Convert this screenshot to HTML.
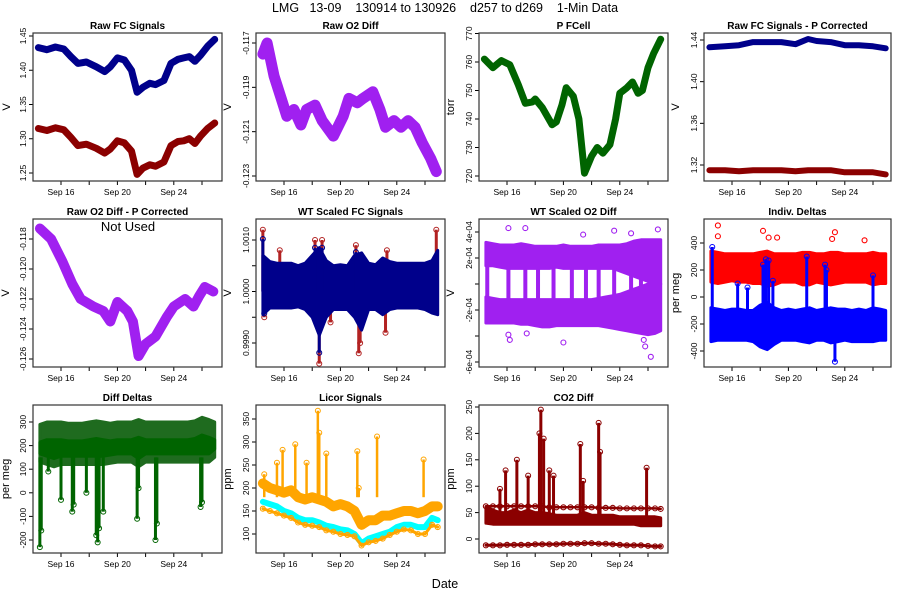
<!DOCTYPE html>
<html><head><meta charset="utf-8"><style>
html,body{margin:0;padding:0;background:#fff;}
svg{display:block;font-family:"Liberation Sans",sans-serif;}
.pre{white-space:pre;}
</style></head><body>
<svg id="root" width="900" height="600" viewBox="0 0 900 600" xmlns="http://www.w3.org/2000/svg">
<rect width="900" height="600" fill="#fff"/>
<text class="pre" xml:space="preserve" x="445" y="12" font-size="12.5" text-anchor="middle">LMG   13-09    130914 to 130926    d257 to d269    1-Min Data</text>
<text x="445" y="588" font-size="12.5" text-anchor="middle">Date</text>
</svg>
<script>
// ---------- data ----------
const xTicks = [16,18,20,22,24,26];
const xTickLabels = {16:"Sep 16",20:"Sep 20",24:"Sep 24"};
// P1 raw FC
const t1 = [14.4,15,15.6,16.2,16.7,17.2,17.8,18.5,19.1,19.5,20.0,20.5,21.0,21.4,21.8,22.3,22.7,23.3,23.8,24.3,24.7,25.1,25.5,25.9,26.4,26.9];
const fcBlue = [1.433,1.430,1.434,1.431,1.420,1.410,1.412,1.405,1.398,1.405,1.418,1.415,1.400,1.368,1.375,1.381,1.379,1.385,1.410,1.416,1.418,1.420,1.413,1.422,1.435,1.445];
const fcRed  = [1.315,1.312,1.316,1.313,1.302,1.290,1.292,1.286,1.279,1.285,1.297,1.294,1.282,1.248,1.257,1.262,1.260,1.266,1.290,1.296,1.297,1.300,1.293,1.304,1.315,1.323];
// P2 raw O2 diff
const t2 = [14.5,14.8,15.3,15.8,16.2,16.7,17.2,17.6,18.2,18.7,19.5,20.2,20.6,21.2,21.6,22.3,22.8,23.2,23.8,24.3,24.8,25.3,25.8,26.4,26.8];
const o2Raw = [-0.1175,-0.1170,-0.1185,-0.1195,-0.1203,-0.1200,-0.1207,-0.1200,-0.1198,-0.1205,-0.1212,-0.1203,-0.1195,-0.1197,-0.1195,-0.1192,-0.1200,-0.1208,-0.1205,-0.1208,-0.1205,-0.1208,-0.1215,-0.1222,-0.1228];
// P3 pressure
const t3 = [14.4,15.0,15.6,16.2,16.8,17.3,17.8,18.0,18.5,19.2,19.5,19.9,20.2,20.7,21.1,21.5,22.0,22.4,22.8,23.3,23.7,24.0,24.5,24.9,25.3,25.6,26.0,26.4,26.9];
const pCell = [761,758,760.5,759,752,745.5,746,747,744,738,739,745,751,748,740,721,727,730,728,731,740,749,751,753,749,750,758,763,768];
// P4 P-corrected FC
const t4 = [14.4,15.5,16.5,17.5,18.5,19.5,20.5,21.4,22.0,23.0,24.0,25.0,26.0,26.9];
const pcBlue = [1.433,1.434,1.435,1.438,1.438,1.438,1.436,1.441,1.439,1.438,1.435,1.435,1.434,1.432];
const pcRed  = [1.315,1.315,1.314,1.315,1.315,1.315,1.314,1.315,1.315,1.315,1.313,1.313,1.313,1.311];
// P5 O2 P-corrected
const t5 = [14.5,15.3,16.1,16.8,17.4,18.3,19.0,19.5,20.0,20.7,21.1,21.5,22.0,22.7,23.5,24.0,24.8,25.4,25.8,26.2,26.8];
const o2Pc = [-0.1173,-0.1180,-0.1195,-0.1210,-0.1220,-0.1225,-0.1228,-0.1235,-0.1222,-0.1228,-0.1235,-0.1258,-0.1250,-0.1245,-0.1232,-0.1225,-0.1220,-0.1225,-0.1218,-0.1212,-0.1215];
// shared time grid for noisy panels
const tg = [14.5,15,15.5,16,16.5,17,17.5,18,18.5,19,19.5,20,20.5,21,21.5,22,22.5,23,23.5,24,24.5,25,25.5,26,26.5,26.9];
// P6 WT scaled FC
const wtHi = [1.00070,1.00058,1.00055,1.00055,1.00055,1.00050,1.00055,1.00070,1.00085,1.00060,1.00050,1.00052,1.00050,1.00070,1.00075,1.00055,1.00052,1.00065,1.00058,1.00055,1.00055,1.00055,1.00055,1.00055,1.00060,1.00080];
const wtLo = [0.99955,0.99968,0.99968,0.99968,0.99968,0.99970,0.99965,0.99950,0.99915,0.99950,0.99965,0.99965,0.99965,0.99950,0.99925,0.99965,0.99965,0.99955,0.99965,0.99968,0.99968,0.99968,0.99968,0.99965,0.99958,0.99955];
const wtSpikeT = [14.5,14.6,18.2,18.5,18.7,21.1,21.3,21.4,23.2,23.3,26.8,15.7,19.3];
const wtSpikeV = [1.0012,0.9995,1.0010,0.9986,1.0010,1.0009,0.9988,0.9990,0.9992,1.0008,1.0012,1.0008,0.9994];
// P7 WT scaled O2
const o2wUpHi = [3.2e-4,3.1e-4,3.0e-4,3.0e-4,3.0e-4,3.1e-4,3.0e-4,2.9e-4,2.9e-4,2.9e-4,2.9e-4,3.0e-4,2.9e-4,2.9e-4,2.9e-4,2.9e-4,3.0e-4,3.0e-4,3.0e-4,3.0e-4,3.1e-4,3.3e-4,3.4e-4,3.4e-4,3.4e-4,3.4e-4];
const o2wUpLo = [1.4e-4,1.4e-4,1.3e-4,1.2e-4,1.2e-4,1.2e-4,1.2e-4,1.2e-4,1.2e-4,1.2e-4,1.3e-4,1.2e-4,1.2e-4,1.2e-4,1.2e-4,1.2e-4,1.2e-4,1.2e-4,1.2e-4,1.0e-4,0.8e-4,0.6e-4,0.4e-4,0.2e-4,0.0,0.0];
const o2wDnHi = [-1.0e-4,-1.1e-4,-1.2e-4,-1.2e-4,-1.2e-4,-1.2e-4,-1.2e-4,-1.2e-4,-1.2e-4,-1.2e-4,-1.2e-4,-1.2e-4,-1.2e-4,-1.2e-4,-1.2e-4,-1.2e-4,-1.1e-4,-1.0e-4,-0.9e-4,-0.8e-4,-0.6e-4,-0.4e-4,-0.2e-4,0.0,0.0,0.0];
const o2wDnLo = [-3.0e-4,-3.0e-4,-3.0e-4,-3.0e-4,-3.0e-4,-3.1e-4,-3.1e-4,-3.2e-4,-3.3e-4,-3.3e-4,-3.2e-4,-3.2e-4,-3.2e-4,-3.2e-4,-3.2e-4,-3.2e-4,-3.2e-4,-3.3e-4,-3.4e-4,-3.5e-4,-3.6e-4,-3.7e-4,-3.8e-4,-3.9e-4,-3.8e-4,-3.6e-4];
const o2wFillT = [14.6,16.1,17.3,18.2,19.3,20.6,21.6,22.5,23.6,24.8,25.5];
const o2wOutT = [16.1,16.2,17.3,17.4,20.0,21.4,23.6,24.8,25.8,26.2,26.7,25.7,16.1];
const o2wOutV = [4.3e-4,-4.3e-4,4.3e-4,-3.8e-4,-4.5e-4,3.8e-4,4.1e-4,3.9e-4,-4.8e-4,-5.6e-4,4.2e-4,-4.3e-4,-3.9e-4];
// P8 individual deltas
const dRedHi = [340,330,320,320,320,320,320,330,340,320,320,320,320,330,330,320,320,330,330,320,320,320,320,330,320,320];
const dRedLo = [110,100,110,120,110,110,100,100,80,90,110,110,110,90,90,110,100,90,100,110,110,110,110,90,100,100];
const dBlueHi = [-80,-90,-100,-90,-90,-100,-100,-60,-40,-80,-100,-90,-100,-90,-80,-100,-90,-80,-90,-90,-100,-90,-100,-80,-90,-100];
const dBlueLo = [-330,-320,-320,-320,-320,-320,-330,-370,-390,-350,-320,-320,-320,-330,-340,-320,-320,-340,-330,-320,-330,-330,-330,-330,-320,-320];
const dSpikeT = [14.6,16.4,17.1,18.2,18.4,18.6,21.3,22.6,22.7,26.0,18.9,23.3];
const dSpikeV = [370,100,70,240,280,270,300,240,200,160,120,-480];
const dRedOutT = [15.0,15.0,18.2,19.2,23.1,23.3,25.4,18.6];
const dRedOutV = [530,450,490,440,430,480,420,440];
// P9 diff deltas
const ddHi = [290,300,300,300,295,295,295,300,305,300,295,300,300,300,310,300,300,300,300,300,300,300,305,320,310,300];
const ddLo = [130,120,110,120,120,120,120,120,120,120,125,130,130,130,110,130,130,130,130,130,130,130,130,130,130,150];
const ddSpikeT = [14.5,14.6,15.1,16.0,16.8,16.9,17.8,18.5,18.6,18.7,19.0,21.4,21.5,22.7,22.8,25.9,26.0];
const ddSpikeV = [-230,-160,90,-30,-80,-50,0,-180,-210,-150,-80,-110,20,-200,-130,-60,-40];
// P10 licor
const licTop  = [210,200,195,190,195,180,175,180,175,170,160,165,160,150,120,130,130,140,140,145,150,150,145,150,160,160];
const licCyan = [170,165,160,150,145,135,130,130,125,118,115,110,108,100,80,90,95,100,105,115,120,120,115,115,135,130];
const licLow  = [155,150,145,140,135,125,120,118,115,108,105,100,98,95,75,82,85,90,98,105,110,108,100,100,120,115];
const licSpikeT = [14.6,15.9,16.8,17.6,18.4,18.5,19.0,21.2,21.3,22.6,25.9,15.5];
const licSpikeV = [230,283,295,255,368,320,275,280,200,312,262,255];
// P11 CO2 diff
const coHi = [60,55,50,50,55,50,55,50,50,48,45,45,45,45,50,45,45,45,45,42,42,42,42,42,42,40];
const coLo = [30,28,28,28,28,28,28,28,28,28,28,28,28,28,28,28,28,28,28,28,28,28,25,25,25,25];
const coTopRow = [62,62,62,62,62,62,62,62,62,60,60,60,60,60,60,60,59,59,59,58,58,58,58,58,58,57];
const coBotRow = [-12,-12,-12,-11,-11,-11,-11,-10,-10,-10,-10,-9,-9,-9,-8,-8,-9,-9,-10,-11,-12,-12,-12,-13,-14,-14];
const coSpikeT = [15.9,16.7,17.5,18.3,18.4,18.6,19.0,19.3,21.2,21.4,22.5,22.6,25.9,15.5];
const coSpikeV = [130,150,120,200,245,190,130,120,180,110,220,165,135,95];

// ---------- framework ----------
const NS = "http://www.w3.org/2000/svg";
const root = document.getElementById("root");
const COLS = [33,256,479,704], ROWS = [33,219,405], PW = 189, PH = 148;
function mk(tag, parent){ const e = document.createElementNS(NS, tag); parent.appendChild(e); return e; }
function set(e, o){ for (const k in o) e.setAttribute(k, o[k]); return e; }
let clipId = 0;

function panel(p){
  const left = COLS[p.col], top = ROWS[p.row], w = p.col===3 ? 187 : PW, bot = top + PH;
  const g = mk("g", root);
  
  
  const xs = t => left + 28 + (t - 16) * 14.1;
  const ys = v => p.p1 + (v - p.v1) * (p.p2 - p.p1) / (p.v2 - p.v1);
  const ti = mk("text", g); set(ti, {x:left+w/2, y:top-4, "font-size":10, "font-weight":"bold", "text-anchor":"middle"}); ti.textContent = p.title;
  
  
  const yl = mk("text", g); set(yl, {x:0, y:0, "font-size":11, "text-anchor":"middle", transform:`translate(${left-p.ylabOff},${top+PH/2}) rotate(-90)`}); yl.textContent = p.ylab;
  
  
  xTicks.forEach(t => {
    const x = xs(t);
    const l = mk("line", g); set(l, {x1:x, x2:x, y1:bot, y2:bot+4, stroke:"#000", "stroke-width":1});
    
    
    if (xTickLabels[t]) {
      const tx = mk("text", g); set(tx, {x:x, y:bot+14, "font-size":8.5, "text-anchor":"middle"}); tx.textContent = xTickLabels[t];
      
      
    }
  });
  p.ticks.forEach((v, i) => {
    const y = ys(v);
    const l = mk("line", g); set(l, {x1:left-4, x2:left, y1:y, y2:y, stroke:"#000", "stroke-width":1});
    
    
    if (p.tickLabels[i]) {
      const tx = mk("text", g); set(tx, {x:0, y:0, "font-size":8.5, "text-anchor":"middle", transform:`translate(${left-7},${y}) rotate(-90)`}); tx.textContent = p.tickLabels[i];
      
      
    }
  });
  const cid = "c" + (clipId++);
  const cp = mk("clipPath", g); cp.setAttribute("id", cid);
  set(mk("rect", cp), {x:left, y:top, width:w, height:PH});
  const plot = mk("g", g); plot.setAttribute("clip-path", `url(#${cid})`);
  
  
  const box = mk("rect", g); set(box, {x:left, y:top, width:w, height:PH, fill:"none", stroke:"#333", "stroke-width":1.2});
  
  
  return {plot, xs, ys};
}
function line(P, ts, vs, color, sw, name){
  const e = mk("polyline", P.plot);
  set(e, {points: ts.map((t,i)=>P.xs(t).toFixed(1)+","+P.ys(vs[i]).toFixed(1)).join(" "), fill:"none", stroke:color, "stroke-width":sw, "stroke-linejoin":"round", "stroke-linecap":"round"});
  
  
}
function band(P, ts, hi, lo, color, name, op){
  const pts = ts.map((t,i)=>P.xs(t).toFixed(1)+","+P.ys(hi[i]).toFixed(1))
    .concat(ts.map((t,i)=>[t,i]).reverse().map(([t,i])=>P.xs(t).toFixed(1)+","+P.ys(lo[i]).toFixed(1)));
  const e = mk("polygon", P.plot);
  set(e, {points: pts.join(" "), fill:color, stroke:color, "stroke-width":3, "fill-opacity":op||1, "stroke-linejoin":"round"});
  
  
}
function spikes(P, ts, vs, base, color, name, sw){
  ts.forEach((t,i)=>{
    const x = P.xs(t);
    const l = mk("line", P.plot); set(l, {x1:x, x2:x, y1:P.ys(base), y2:P.ys(vs[i]), stroke:color, "stroke-width":sw||2});
    
    
    const c = mk("circle", P.plot); set(c, {cx:x, cy:P.ys(vs[i]), r:2.5, fill:"none", stroke:color, "stroke-width":1});
    
    
  });
}
function dots(P, ts, vs, color, name){
  ts.forEach((t,i)=>{
    const c = mk("circle", P.plot); set(c, {cx:P.xs(t), cy:P.ys(vs[i]), r:2.5, fill:"none", stroke:color, "stroke-width":1.1});
    
    
  });
}

// ---------- panels ----------
let P;
P = panel({name:"raw-fc", title:"Raw FC Signals", ylab:"V", ylabOff:23, col:0,row:0, v1:1.45,p1:36, v2:1.25,p2:173, ticks:[1.25,1.30,1.35,1.40,1.45], tickLabels:["1.25","1.30","1.35","1.40","1.45"]});
line(P, t1, fcBlue, "#00008B", 7, "fc-signal-1-line");
line(P, t1, fcRed, "#8B0000", 7, "fc-signal-2-line");

P = panel({name:"raw-o2-diff", title:"Raw O2 Diff", ylab:"V", ylabOff:25, col:1,row:0, v1:-0.117,p1:43, v2:-0.123,p2:176, ticks:[-0.117,-0.119,-0.121,-0.123], tickLabels:["-0.117","-0.119","-0.121","-0.123"]});
line(P, t2, o2Raw, "#A020F0", 11, "o2-diff-line");

P = panel({name:"p-fcell", title:"P FCell", ylab:"torr", ylabOff:25, col:2,row:0, v1:770,p1:33.5, v2:720,p2:176, ticks:[720,730,740,750,760,770], tickLabels:["720","730","740","750","760","770"]});
line(P, t3, pCell, "#006400", 7, "pressure-line");

P = panel({name:"fc-p-corrected", title:"Raw FC Signals - P Corrected", ylab:"V", ylabOff:25, col:3,row:0, v1:1.44,p1:40, v2:1.32,p2:165, ticks:[1.32,1.36,1.40,1.44], tickLabels:["1.32","1.36","1.40","1.44"]});
line(P, t4, pcBlue, "#00008B", 6, "pc-signal-1-line");
line(P, t4, pcRed, "#8B0000", 6, "pc-signal-2-line");

P = panel({name:"o2-p-corrected", title:"Raw O2 Diff - P Corrected", ylab:"V", ylabOff:24, col:0,row:1, v1:-0.118,p1:239, v2:-0.126,p2:359, ticks:[-0.118,-0.120,-0.122,-0.124,-0.126], tickLabels:["-0.118","-0.120","-0.122","-0.124","-0.126"]});
line(P, t5, o2Pc, "#A020F0", 10, "o2-pc-line");
{ const nt = mk("text", root); set(nt, {x:128, y:231, "font-size":13, "text-anchor":"middle"}); nt.textContent = "Not Used";
  
   }

P = panel({name:"wt-fc", title:"WT Scaled FC Signals", ylab:"V", ylabOff:25, col:1,row:1, v1:1.0010,p1:240, v2:0.9990,p2:343, ticks:[0.9990,0.9995,1.0000,1.0005,1.0010], tickLabels:["0.9990","","1.0000","","1.0010"]});
spikes(P, wtSpikeT, wtSpikeV, 1.0, "#B22222", "wt-fc", 3);
band(P, tg, wtHi, wtLo, "#00008B", "wt-fc-band");
spikes(P, wtSpikeT.slice(0,6), wtSpikeV.slice(0,6).map(v=>1+(v-1)*0.85), 1.0, "#00008B", "wt-fc-blue", 3);

P = panel({name:"wt-o2", title:"WT Scaled O2 Diff", ylab:"V", ylabOff:25, col:2,row:1, v1:4e-4,p1:232, v2:-6e-4,p2:362, ticks:[-6e-4,-4e-4,-2e-4,0,2e-4,4e-4], tickLabels:["-6e-04","","-2e-04","","2e-04","4e-04"]});
band(P, tg, o2wUpHi, o2wUpLo, "#A020F0", "wt-o2-upper-band");
band(P, tg, o2wDnHi, o2wDnLo, "#A020F0", "wt-o2-lower-band");
o2wFillT.forEach(t=>{ const x=P.xs(t); const r=mk("rect",P.plot); set(r,{x:x-2,y:P.ys(2e-4),width:4,height:P.ys(-2e-4)-P.ys(2e-4),fill:"#A020F0"});
  
   });
dots(P, o2wOutT, o2wOutV, "#A020F0", "wt-o2-outlier");

P = panel({name:"indiv-deltas", title:"Indiv. Deltas", ylab:"per meg", ylabOff:25, col:3,row:1, v1:400,p1:243, v2:-400,p2:351, ticks:[-400,-200,0,200,400], tickLabels:["-400","-200","0","200","400"]});
band(P, tg, dRedHi, dRedLo, "#FF0000", "delta-red-band");
dots(P, dRedOutT, dRedOutV, "#FF0000", "delta-red-outlier");
band(P, tg, dBlueHi, dBlueLo, "#0000FF", "delta-blue-band");
spikes(P, dSpikeT, dSpikeV, -150, "#0000FF", "delta-blue", 3);

P = panel({name:"diff-deltas", title:"Diff Deltas", ylab:"per meg", ylabOff:24, col:0,row:2, v1:300,p1:422, v2:-200,p2:540, ticks:[-200,-100,0,100,200,300], tickLabels:["-200","-100","0","100","200","300"]});
band(P, tg, ddHi, ddLo, "#1F6B1F", "diff-delta-band");
band(P, tg, ddHi.map(v=>v-75), ddLo.map(v=>v+35), "#006400", "diff-delta-core");
spikes(P, ddSpikeT, ddSpikeV, 150, "#006400", "diff-delta", 3);

P = panel({name:"licor", title:"Licor Signals", ylab:"ppm", ylabOff:25, col:1,row:2, v1:350,p1:419, v2:100,p2:534, ticks:[100,150,200,250,300,350], tickLabels:["100","150","200","250","300","350"]});
spikes(P, licSpikeT, licSpikeV, 180, "#FFA500", "licor-top", 2.5);
line(P, tg, licTop, "#FFA500", 10, "licor-top-line");
line(P, tg, licCyan, "#00FFFF", 6, "licor-cyan-line");
line(P, tg, licLow, "#FFA500", 3, "licor-low-line");
dots(P, tg, licLow, "#FFA500", "licor-low-point");

P = panel({name:"co2-diff", title:"CO2 Diff", ylab:"ppm", ylabOff:25, col:2,row:2, v1:250,p1:407, v2:0,p2:539, ticks:[0,50,100,150,200,250], tickLabels:["0","50","100","150","200","250"]});
band(P, tg, coHi, coLo, "#8B0000", "co2-band");
spikes(P, coSpikeT, coSpikeV, 40, "#8B0000", "co2", 3);
line(P, tg, coTopRow, "#8B0000", 2.5, "co2-top-row");
line(P, tg, coBotRow, "#8B0000", 3, "co2-bottom-row");
dots(P, tg, coTopRow, "#8B0000", "co2-top-point");
dots(P, tg, coBotRow, "#8B0000", "co2-bottom-point");
</script>
</body></html>
